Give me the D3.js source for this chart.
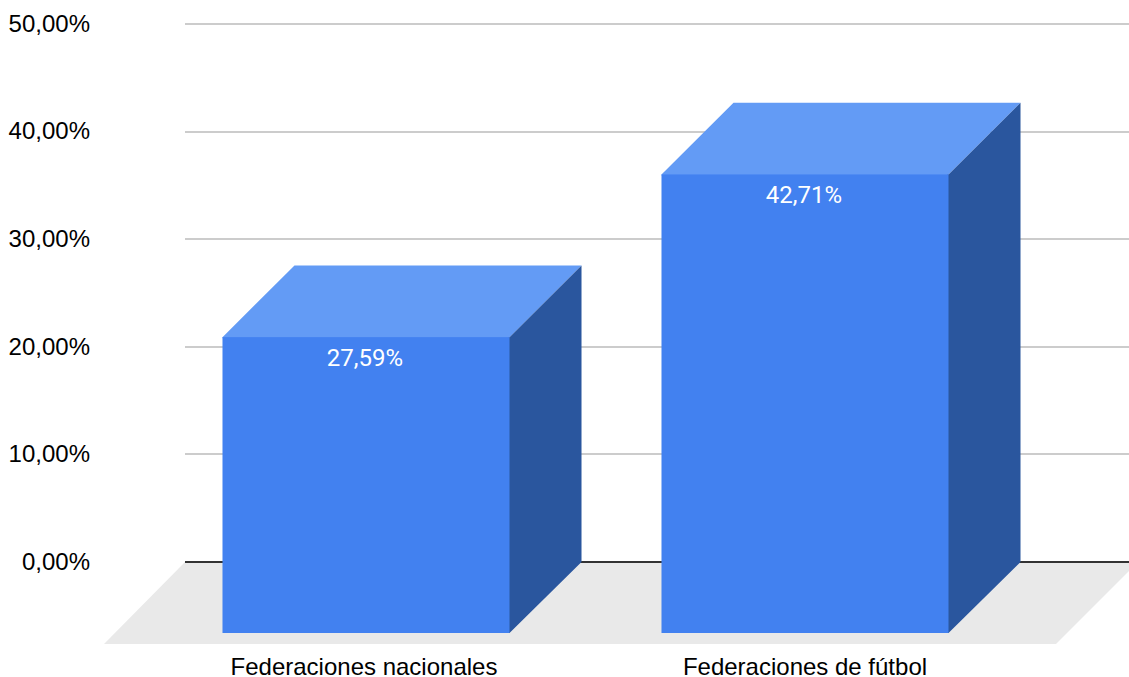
<!DOCTYPE html>
<html><head><meta charset="utf-8">
<script src="https://cdn.jsdelivr.net/npm/d3@7/dist/d3.min.js"></script>
<style>html,body{margin:0;padding:0;background:#fff;overflow:hidden}svg{display:block}</style>
</head><body><svg id="c" width="1129" height="677"></svg>
<script>
const categories = ["Federaciones nacionales", "Federaciones de fútbol"];
const values = [27.59, 42.71];
const valueLabels = ["27,59%", "42,71%"];
const tickValues = [0, 10, 20, 30, 40, 50];
const tickLabels = ["0,00%", "10,00%", "20,00%", "30,00%", "40,00%", "50,00%"];

const svg = d3.select("#c");
const y = d3.scaleLinear().domain([0, 50]).range([562, 24]);
const x = d3.scaleBand().domain(categories).range([146.5, 1024.5]).paddingInner(0.3462).paddingOuter(0.1731);
const xLabel = d3.scalePoint().domain(categories).range([364, 805]);
const depthX = 72, depthY = 72;
const font = "'Liberation Sans', Arial, sans-serif";

// axis labels and gridlines
const axis = d3.axisLeft(y).tickValues(tickValues).tickSize(0).tickPadding(0)
  .tickFormat((d, i) => tickLabels[i]);
const gAxis = svg.append("g").attr("transform", "translate(90,0)").call(axis);
gAxis.select(".domain").remove();
gAxis.selectAll("text").attr("font-family", font).attr("font-size", 24).attr("fill", "#000")
  .attr("text-anchor", "end").attr("dy", "0.3em");

svg.append("g").selectAll("line").data(tickValues.filter(d => d > 0)).join("line")
  .attr("x1", 185).attr("x2", 1129).attr("y1", d => Math.round(y(d))).attr("y2", d => Math.round(y(d)))
  .attr("stroke", "#cccccc").attr("stroke-width", 2);

// floor
const y0 = y(0);
svg.append("path").attr("fill", "#e9e9e9")
  .attr("d", d3.line()([[185, y0], [1138, y0], [1056, y0 + 82], [104, y0 + 82]]));
svg.append("line").attr("x1", 185).attr("x2", 1129).attr("y1", y0).attr("y2", y0)
  .attr("stroke", "#333333").attr("stroke-width", 2);

// bars: the side and top faces run slightly under the front face so no seam shows
const overlap = 1;
const poly = d3.line();
const bars = svg.append("g").selectAll("g").data(categories.map((c, i) => ({ c, v: values[i], l: valueLabels[i] }))).join("g");
const frontL = d => x(d.c);
const frontR = d => x(d.c) + x.bandwidth();
const topBack = d => y(d.v) + 0.3;
const topFront = d => y(d.v) + depthY;
const bottomFront = y0 + 71;
bars.append("path").attr("fill", "#639bf5").attr("d", d => poly([
  [frontL(d), topFront(d) + overlap], [frontL(d), topFront(d)], [frontL(d) + depthX, topBack(d)],
  [frontR(d) + depthX, topBack(d)], [frontR(d), topFront(d)], [frontR(d), topFront(d) + overlap]]));
bars.append("path").attr("fill", "#2a569e").attr("d", d => poly([
  [frontR(d) - overlap, topFront(d)], [frontR(d), topFront(d)], [frontR(d) + depthX, topBack(d)],
  [frontR(d) + depthX, y0], [frontR(d), bottomFront], [frontR(d) - overlap, bottomFront]]));
bars.append("rect").attr("fill", "#4281f0")
  .attr("x", frontL).attr("y", topFront).attr("width", x.bandwidth()).attr("height", d => bottomFront - topFront(d));
bars.append("text").attr("x", d => frontL(d) + x.bandwidth() / 2 - 1).attr("y", d => topFront(d) + 28.5)
  .attr("text-anchor", "middle").attr("font-family", "Roboto, sans-serif").attr("font-size", 24).attr("fill", "#fff")
  .text(d => d.l);

// category labels
svg.append("g").selectAll("text").data(categories).join("text")
  .attr("x", d => xLabel(d)).attr("y", 675)
  .attr("text-anchor", "middle").attr("font-family", font).attr("font-size", 24).attr("fill", "#000")
  .text(d => d);
</script></body></html>
